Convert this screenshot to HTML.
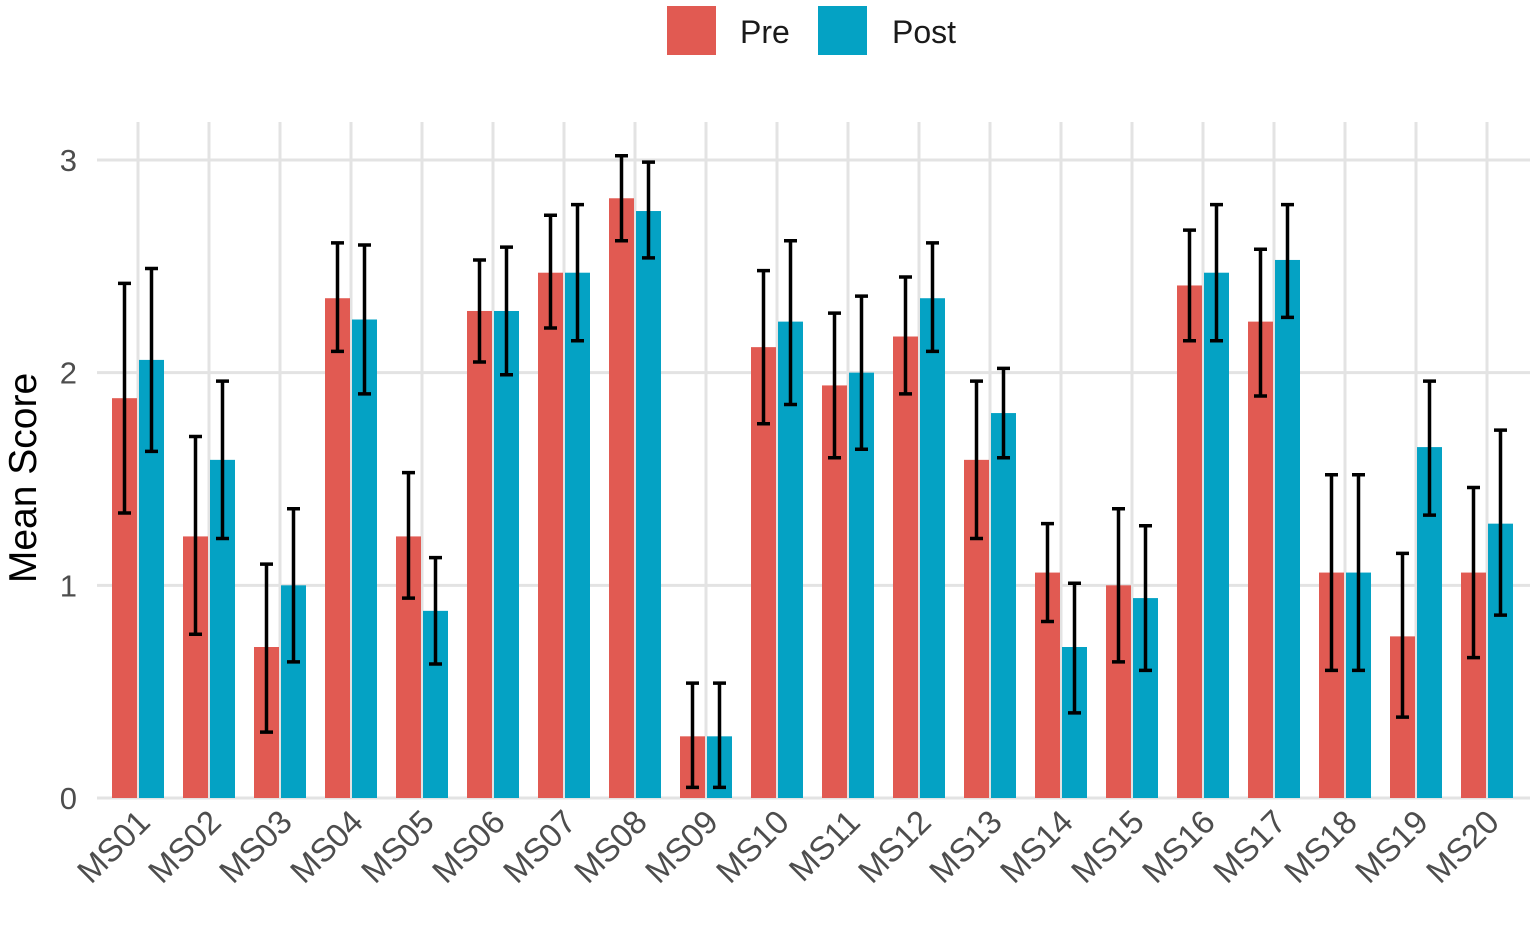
<!DOCTYPE html>
<html><head><meta charset="utf-8"><style>
html,body{margin:0;padding:0;background:#fff;}
svg{display:block;font-family:"Liberation Sans",Arial,sans-serif;}
</style></head><body>
<svg id="chart" width="1535" height="935" xmlns="http://www.w3.org/2000/svg">
<g>
<rect x="667" y="6" width="49" height="49" fill="#E15A52"/>
<text x="740" y="43" font-size="32" fill="#1a1a1a">Pre</text>
<rect x="818" y="6" width="49" height="49" fill="#04A2C4"/>
<text x="892" y="43" font-size="32" fill="#1a1a1a">Post</text>
</g>
<text transform="translate(36,478) rotate(-90)" text-anchor="middle" font-size="39" fill="#000">Mean Score</text>
<g id="grid"></g><g id="bars"></g><g id="errs"></g><g id="labels"></g>
</svg>
<script>
const categories=["MS01","MS02","MS03","MS04","MS05","MS06","MS07","MS08","MS09","MS10","MS11","MS12","MS13","MS14","MS15","MS16","MS17","MS18","MS19","MS20"];
const preMean=[1.88,1.23,0.71,2.35,1.23,2.29,2.47,2.82,0.29,2.12,1.94,2.17,1.59,1.06,1.0,2.41,2.24,1.06,0.76,1.06];
const preHi=[2.42,1.70,1.10,2.61,1.53,2.53,2.74,3.02,0.54,2.48,2.28,2.45,1.96,1.29,1.36,2.67,2.58,1.52,1.15,1.46];
const preLo=[1.34,0.77,0.31,2.10,0.94,2.05,2.21,2.62,0.05,1.76,1.60,1.90,1.22,0.83,0.64,2.15,1.89,0.60,0.38,0.66];
const postMean=[2.06,1.59,1.0,2.25,0.88,2.29,2.47,2.76,0.29,2.24,2.0,2.35,1.81,0.71,0.94,2.47,2.53,1.06,1.65,1.29];
const postHi=[2.49,1.96,1.36,2.60,1.13,2.59,2.79,2.99,0.54,2.62,2.36,2.61,2.02,1.01,1.28,2.79,2.79,1.52,1.96,1.73];
const postLo=[1.63,1.22,0.64,1.90,0.63,1.99,2.15,2.54,0.05,1.85,1.64,2.10,1.60,0.40,0.60,2.15,2.26,0.60,1.33,0.86];
const yTicks=[0,1,2,3];
const NS="http://www.w3.org/2000/svg";
const y=v=>798-v*212.67;
const x=i=>138+i*71;
function mk(tag,attrs,parent,txt){const e=document.createElementNS(NS,tag);for(const k in attrs)e.setAttribute(k,attrs[k]);if(txt!==undefined)e.textContent=txt;document.getElementById(parent).appendChild(e);return e;}
yTicks.forEach(t=>{
 let l=mk('line',{x1:97,x2:1530,y1:y(t),y2:y(t),stroke:'#e3e3e3','stroke-width':3},'grid');
 
 
 let tx=mk('text',{x:77,y:y(t)+11,'text-anchor':'end','font-size':31,fill:'#4d4d4d'},'labels',String(t));
 
 
});
categories.forEach((c,i)=>{
 let l=mk('line',{x1:x(i),x2:x(i),y1:122,y2:798,stroke:'#e3e3e3','stroke-width':3},'grid');
 
 
 const series=[[preMean,preHi,preLo,'#E15A52',x(i)-26,'pre'],[postMean,postHi,postLo,'#04A2C4',x(i)+1,'post']];
 series.forEach(s=>{
  const m=s[0][i];
  let r=mk('rect',{x:s[4],y:y(m),width:25,height:y(0)-y(m),fill:s[3]},'bars');
  
  
  const cx=s[4]+12.5,hi=y(s[1][i]),lo=y(s[2][i]);
  let g=mk('path',{d:`M${cx-6.5},${hi}H${cx+6.5}M${cx},${hi}V${lo}M${cx-6.5},${lo}H${cx+6.5}`,stroke:'#000','stroke-width':3.5,fill:'none'},'errs');
  
  
 });
 let t=mk('text',{transform:`translate(${x(i)+14},${824}) rotate(-45)`,'text-anchor':'end','font-size':33,fill:'#4d4d4d'},'labels',c);
 
 
});
</script>
</body></html>
